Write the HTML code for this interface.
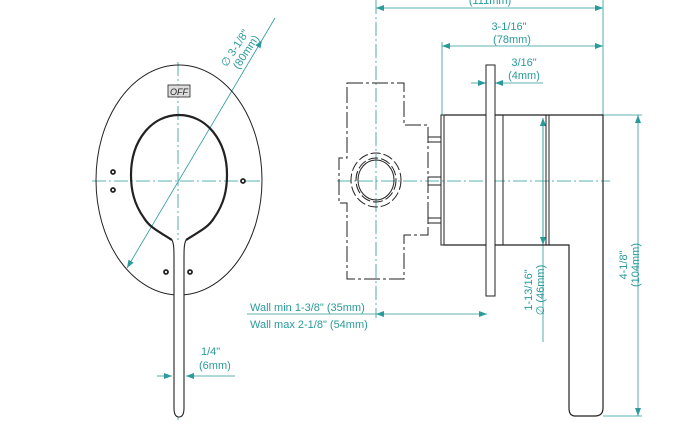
<!DOCTYPE html>
<html><head><meta charset="utf-8"><style>
html,body{margin:0;padding:0;background:#fff;width:700px;height:441px;overflow:hidden}
svg{display:block}
text{font-family:"Liberation Sans",sans-serif;fill:#2a9a9a;font-size:11px}
</style></head><body>
<svg width="700" height="441" viewBox="0 0 700 441" xmlns="http://www.w3.org/2000/svg">
<defs>
<marker id="a" markerWidth="8" markerHeight="6" refX="8" refY="3" orient="auto-start-reverse" markerUnits="userSpaceOnUse"><path d="M0,0 L8,3 L0,6z" fill="#2a9a9a"/></marker>
</defs>
<g stroke="#2a9a9a" stroke-width="0.8" fill="none">
<line x1="92" y1="181" x2="262" y2="181" stroke-dasharray="14,3,2,3"/>
<line x1="178" y1="62" x2="178" y2="420" stroke-dasharray="14,3,2,3"/>
<line x1="127" y1="268" x2="262" y2="40" marker-start="url(#a)" marker-end="url(#a)"/>
<line x1="262" y1="40" x2="275" y2="18"/>
<line x1="157" y1="376" x2="172" y2="376" marker-end="url(#a)"/>
<line x1="235" y1="376" x2="186" y2="376" marker-end="url(#a)"/>
<line x1="337" y1="181" x2="610" y2="181" stroke-dasharray="14,3,2,3"/>
<line x1="376" y1="0" x2="376" y2="318" stroke-dasharray="14,3,2,3"/>
<line x1="376" y1="8" x2="603" y2="8" marker-start="url(#a)" marker-end="url(#a)"/>
<line x1="603" y1="0" x2="603" y2="115"/>
<line x1="442" y1="42" x2="442" y2="115"/>
<line x1="442" y1="46" x2="603" y2="46" marker-start="url(#a)" marker-end="url(#a)"/>
<line x1="471" y1="83" x2="486" y2="83" marker-end="url(#a)"/>
<line x1="543" y1="83" x2="495" y2="83" marker-end="url(#a)"/>
<line x1="543" y1="118" x2="543" y2="342" marker-start="url(#a)"/>
<line x1="543" y1="118" x2="543" y2="245" marker-start="url(#a)" marker-end="url(#a)"/>
<line x1="603" y1="115" x2="642" y2="115"/>
<line x1="603" y1="416" x2="642" y2="416"/>
<line x1="638" y1="115" x2="638" y2="416" marker-start="url(#a)" marker-end="url(#a)"/>
<line x1="247" y1="314" x2="376" y2="314"/>
<line x1="376" y1="314" x2="487" y2="314" marker-start="url(#a)" marker-end="url(#a)"/>
</g>
<g stroke="#222" fill="none">
<ellipse cx="179" cy="180" rx="83" ry="115" stroke-width="1"/>
<path d="M172,240 C160,232 150,228 144,218 C134,204 131,190 131,175 C131,140 152,115 179,115 C206,115 227,140 227,175 C227,190 224,204 214,218 C208,228 198,232 186,240" stroke-width="2.2"/>
<path d="M172,240 C174,244 174,250 174,260 L174,408 Q174,417 179,417 Q184,417 184,408 L184,260 C184,250 184,244 186,240" stroke-width="1.1" fill="#fff"/>
<g fill="#fff" stroke-width="1.8"><circle cx="113" cy="172" r="2"/><circle cx="113" cy="190" r="2"/><circle cx="243" cy="181" r="2"/><circle cx="166" cy="272" r="2"/><circle cx="190" cy="272" r="2"/></g>
<rect x="168" y="85" width="22" height="12" fill="#ddd" stroke-width="0.8"/>
<path d="M347,83 H404 V125 H428 V235 H404 V279 H347 V203 H339 V158 H347 Z" stroke-dasharray="16,3,3,3" stroke-width="1"/>
<ellipse cx="376" cy="180" rx="25" ry="27" stroke-dasharray="10,3" stroke-width="1"/>
<ellipse cx="376" cy="180" rx="20" ry="22" stroke-dasharray="10,3" stroke-width="1"/>
<ellipse cx="376" cy="180" rx="18" ry="20" stroke-width="1"/>
<g stroke-width="1"><rect x="428" y="137" width="13" height="5"/><rect x="428" y="177" width="13" height="8"/><rect x="428" y="218" width="13" height="5"/></g>
<rect x="441" y="115" width="3" height="130" stroke-width="1"/>
<path d="M444,115 H603 V408 Q603,416 595,416 H575 Q569,416 569,408 V245 H444" stroke-width="1.2"/>
<line x1="503" y1="115" x2="503" y2="245"/>
<line x1="546" y1="115" x2="546" y2="245"/>
<line x1="549" y1="115" x2="549" y2="245"/>
<rect x="486" y="65" width="9" height="231" fill="#fff" stroke-width="1"/>
</g>
<text x="201" y="355" font-size="12">1/4"</text>
<text x="199" y="369" font-size="12">(6mm)</text>
<text x="509" y="30" text-anchor="middle" font-size="12.5">3-1/16"</text>
<text x="512" y="43" text-anchor="middle" font-size="12">(78mm)</text>
<text x="524" y="66" text-anchor="middle" font-size="12.5">3/16"</text>
<text x="524" y="79" text-anchor="middle" font-size="12">(4mm)</text>
<text x="490" y="4" text-anchor="middle" font-size="12">(111mm)</text>
<text x="250" y="311" font-size="12">Wall min 1-3/8" (35mm)</text>
<text x="250" y="328" font-size="12">Wall max 2-1/8" (54mm)</text>
<text transform="translate(532,290) rotate(-90)" text-anchor="middle" font-size="12.5">1-13/16"</text>
<text transform="translate(544,290) rotate(-90)" text-anchor="middle" font-size="12.5">∅ (46mm)</text>
<text transform="translate(627,265) rotate(-90)" text-anchor="middle" font-size="12.5">4-1/8"</text>
<text transform="translate(639,265) rotate(-90)" text-anchor="middle" font-size="12.5">(104mm)</text>
<text transform="translate(238,50) rotate(-57)" text-anchor="middle" font-size="12.5">∅ 3-1/8"</text>
<text transform="translate(249,54) rotate(-57)" text-anchor="middle" font-size="12.5">(80mm)</text>
<text x="179" y="95" text-anchor="middle" style="fill:#222;font-size:9px;font-style:italic">OFF</text>
</svg>
</body></html>
